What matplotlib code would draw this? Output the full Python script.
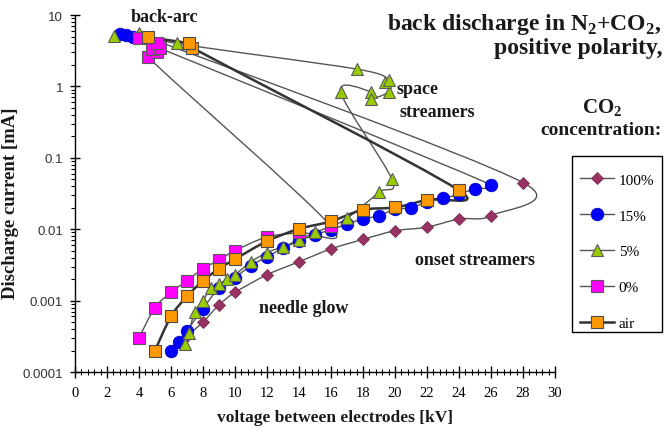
import matplotlib
matplotlib.use("Agg")
import matplotlib.pyplot as plt
import numpy as np
from matplotlib.path import Path
from matplotlib.patches import PathPatch, Rectangle
from matplotlib.lines import Line2D
from matplotlib.ticker import FixedLocator, LogLocator, MultipleLocator, NullFormatter, FuncFormatter

plt.rcParams['font.family'] = 'Liberation Serif'
plt.rcParams['mathtext.fontset'] = 'custom'
plt.rcParams['mathtext.rm'] = 'Liberation Serif:bold'
plt.rcParams['mathtext.bf'] = 'Liberation Serif:bold'

# voltage [kV] / discharge current [mA] for each CO2 concentration
kv_100 = [7, 8, 9, 10, 12, 14, 16, 18, 20, 22, 24, 26, 28, 4.5]
ma_100 = [0.00032, 0.0005, 0.00087, 0.0013, 0.0023, 0.0035, 0.0053, 0.0072,
          0.0095, 0.0107, 0.0139, 0.0155, 0.045, 4.9]

kv_15 = [6, 6.5, 7, 8, 9, 10, 11, 12, 13, 14, 15, 16, 17, 18, 19, 20, 21,
         22, 23, 24, 25, 26, 3.6, 3.2, 2.8]
ma_15 = [0.0002, 0.00026, 0.00038, 0.00077, 0.0015, 0.0021, 0.0031, 0.0041,
         0.0054, 0.0068, 0.0084, 0.0098, 0.0118, 0.0139, 0.0155, 0.019, 0.020,
         0.024, 0.027, 0.031, 0.037, 0.042, 4.9, 5.2, 5.5]

kv_5 = [6.9, 7.1, 7.5, 8, 8.5, 9, 9.5, 10, 11, 12, 13, 14, 15, 16, 17, 19,
        19.8, 16.6, 18.5, 18.5, 19.6, 19.4, 19.6, 17.6, 6.35, 4.0, 2.45]
ma_5 = [0.00025, 0.00035, 0.0007, 0.001, 0.0015, 0.0017, 0.002, 0.0023,
        0.0035, 0.0047, 0.0057, 0.0071, 0.009, 0.011, 0.0142, 0.033, 0.05,
        0.84, 0.84, 0.67, 0.84, 1.14, 1.24, 1.75, 4.0, 5.6, 5.1]

kv_0 = [4, 5, 6, 7, 8, 9, 10, 12, 14, 16, 4.55, 5.1, 4.8, 5.3, 5.1, 4.0]
ma_0 = [0.0003, 0.0008, 0.0013, 0.0019, 0.0028, 0.0037, 0.005, 0.0078,
        0.009, 0.011, 2.6, 3.0, 3.3, 3.5, 4.0, 4.7]

kv_air = [5, 6, 7, 8, 9, 10, 12, 14, 16, 18, 20, 22, 24, 7.3, 7.1, 4.55]
ma_air = [0.0002, 0.0006, 0.00115, 0.0019, 0.0028, 0.0038, 0.0068, 0.0101,
          0.0129, 0.0187, 0.0202, 0.026, 0.035, 3.5, 4.0, 4.9]

labels = ['100%', '15%', '5%', '0%', 'air']


def smooth_path(xs, ys, sx=16.0, sy=71.4):
    """Smoothed connecting line: Catmull-Rom tangents turned into cubic
    Bezier handles, each handle limited to the length of its segment."""
    P = np.column_stack([np.asarray(xs) * sx, np.log10(ys) * sy])
    n = len(P)

    def handle(t, seg):
        d = np.hypot(*t)
        L = np.hypot(*seg)
        return t if d <= L or d == 0 else t * (L / d)

    verts = [P[0]]
    codes = [Path.MOVETO]
    for i in range(n - 1):
        p0 = P[i - 1] if i > 0 else P[i]
        p3 = P[i + 2] if i + 2 < n else P[i + 1]
        seg = P[i + 1] - P[i]
        c1 = P[i] + handle((P[i + 1] - p0) / 6.0, seg)
        c2 = P[i + 1] - handle((p3 - P[i]) / 6.0, seg)
        verts += [c1, c2, P[i + 1]]
        codes += [Path.CURVE4] * 3
    V = np.array(verts)
    return Path(np.column_stack([V[:, 0] / sx, 10 ** (V[:, 1] / sy)]), codes)


fig = plt.figure(figsize=(6.66, 4.35), dpi=100)
ax = fig.add_axes([0.1126, 0.1425, 0.7207, 0.8207])
ax.set_yscale('log')
ax.set_xlim(0, 30)
ax.set_ylim(1e-4, 10)

styles = [
    dict(marker='D', ms=6.5, mfc='#993366', mec='#7a2a52', mew=0.6, lc='#555555', lw=1.0),
    dict(marker='o', ms=9, mfc='#0000FF', mec='#0000CC', mew=0.6, lc='#555555', lw=1.0),
    dict(marker='^', ms=9, mfc='#99CC00', mec='#5a5a5a', mew=0.8, lc='#555555', lw=1.0),
    dict(marker='s', ms=8, mfc='#FF00FF', mec='#5a5a5a', mew=0.8, lc='#555555', lw=1.0),
    dict(marker='s', ms=8.5, mfc='#FF9900', mec='#4a4a4a', mew=0.8, lc='#333333', lw=1.8),
]
series = [(kv_100, ma_100), (kv_15, ma_15), (kv_5, ma_5), (kv_0, ma_0), (kv_air, ma_air)]

handles = []
for (xs, ys), st, lab in zip(series, styles, labels):
    ax.add_patch(PathPatch(smooth_path(xs, ys), fill=False, edgecolor=st['lc'],
                           lw=st['lw'], transform=ax.transData))
    ax.plot(xs, ys, linestyle='none', marker=st['marker'], ms=st['ms'],
            mfc=st['mfc'], mec=st['mec'], mew=st['mew'], zorder=3)
    handles.append(Line2D([], [], color=st['lc'], lw=st['lw'], marker=st['marker'],
                          ms=st['ms'], mfc=st['mfc'], mec=st['mec'], mew=st['mew']))

# axes styling
for s in ['top', 'right']:
    ax.spines[s].set_visible(False)
for s in ['left', 'bottom']:
    ax.spines[s].set_color('black')
    ax.spines[s].set_linewidth(1.0)

ax.xaxis.set_major_locator(MultipleLocator(2))
ax.xaxis.set_minor_locator(MultipleLocator(0.4))
ax.yaxis.set_major_locator(FixedLocator([1e-4, 1e-3, 1e-2, 1e-1, 1, 10]))
ax.yaxis.set_minor_locator(LogLocator(base=10, subs=np.arange(2, 10)))
ax.yaxis.set_minor_formatter(NullFormatter())
ax.yaxis.set_major_formatter(FuncFormatter(lambda v, p: '%g' % v))
ax.tick_params(axis='x', which='major', direction='inout', length=8, width=1,
               labelsize=10.5, pad=6)
ax.tick_params(axis='x', which='minor', direction='inout', length=4, width=0.8)
ax.tick_params(axis='y', which='major', direction='inout', length=7, width=1,
               labelsize=9.5, pad=5)
ax.tick_params(axis='y', which='minor', direction='out', length=3, width=0.8)
for t in ax.get_yticklabels():
    t.set_family('Liberation Sans')
    t.set_color('#333333')

bold = dict(fontweight='bold', color='#1a1a1a')
fig.text(0.016, 0.533, 'Discharge current [mA]', rotation=90, ha='center',
         va='center', fontsize=13.5, **bold)
fig.text(0.503, 0.039, 'voltage between electrodes [kV]', ha='center',
         va='center', fontsize=12.5, **bold)

# annotations inside the plot
ax.text(5.6, 9.4, 'back-arc', ha='center', va='center', fontsize=13, **bold)
ax.text(20.1, 0.92, 'space', ha='left', va='center', fontsize=13, **bold)
ax.text(20.3, 0.45, 'streamers', ha='left', va='center', fontsize=13, **bold)
ax.text(21.25, 0.0038, 'onset streamers', ha='left', va='center', fontsize=13, **bold)
ax.text(11.5, 0.00081, 'needle glow', ha='left', va='center', fontsize=13, **bold)

fig.text(0.994, 0.944, r'back discharge in N$_2$+CO$_2$,', ha='right',
         va='center', fontsize=17, **bold)
fig.text(0.994, 0.889, 'positive polarity,', ha='right', va='center',
         fontsize=17, **bold)
fig.text(0.904, 0.752, r'CO$_2$', ha='center', va='center', fontsize=15, **bold)
fig.text(0.902, 0.699, 'concentration:', ha='center', va='center',
         fontsize=14, **bold)

# legend: entries without frame, box drawn separately
leg = fig.legend(handles, labels, loc='center',
                 bbox_to_anchor=(0.860, 0.2345, 0.1336, 0.370),
                 frameon=False, fontsize=11, labelspacing=1.45,
                 handlelength=2.2, handletextpad=0.3, borderpad=0.3,
                 numpoints=1)
fig.add_artist(Rectangle((572 / 666, 1 - 333 / 435), 90 / 666, 176 / 435,
                         transform=fig.transFigure, fill=False,
                         edgecolor='black', lw=1.0))

fig.savefig('out.png', dpi=100)
